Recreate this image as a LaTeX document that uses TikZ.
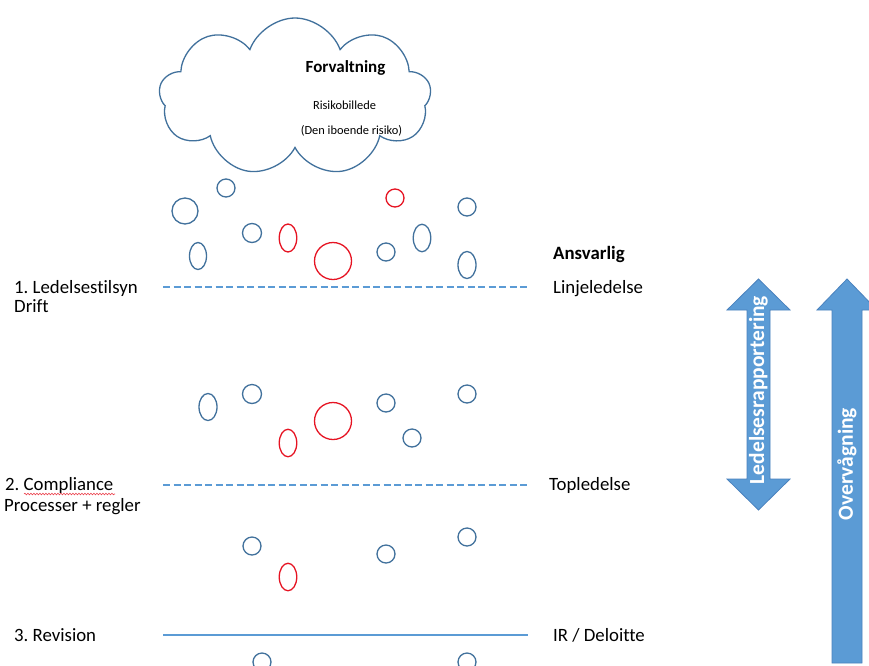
\documentclass[tikz,border=0pt]{standalone}
\usepackage{fontspec}
\setmainfont{Carlito}[Ligatures=NoCommon]
\usetikzlibrary{shapes.geometric,shapes.symbols,decorations.pathmorphing}
\definecolor{edgeblue}{RGB}{65,113,156}
\definecolor{lightblue}{RGB}{91,155,213}
\definecolor{arrowedge}{RGB}{74,130,190}
\definecolor{riskred}{RGB}{230,20,35}
\tikzset{
  blob/.style={ellipse, draw=edgeblue, line width=1.3pt, inner sep=0pt},
  redblob/.style={ellipse, draw=riskred, line width=1.3pt, inner sep=0pt},
  lab/.style={anchor=base west, inner sep=0pt, font=\fontsize{18.8}{22}\selectfont},
  dashline/.style={draw=lightblue, line width=1.8pt, dash pattern=on 7pt off 3.5pt},
  solidline/.style={draw=lightblue, line width=1.6pt},
  bigarrow/.style={fill=lightblue, draw=arrowedge, line width=0.8pt, line join=miter},
  arrowtext/.style={rotate=90, text=white, inner sep=0pt, font=\bfseries\fontsize{21.5}{24}\selectfont}
}
\begin{document}
\frenchspacing
\begin{tikzpicture}[x=1pt,y=-1pt]
\useasboundingbox (0,0) rectangle (869,665);
\clip (0,0) rectangle (869,665);
\fill[white] (0,0) rectangle (869,665);

% cloud
\node[cloud, draw=edgeblue, line width=1.3pt, cloud puffs=9, cloud puff arc=140, aspect=1.75,
      minimum width=272pt, minimum height=158pt, inner sep=0pt, shape border rotate=10] (cloud) at (295,97) {};
\node[inner sep=0pt, font=\bfseries\fontsize{17}{20}\selectfont] (forv) at (345.5,68) {Forvaltning};
\node[inner sep=0pt, font=\fontsize{12.4}{14}\selectfont] (risk) at (344.5,105) {Risikobillede};
\node[inner sep=0pt, font=\fontsize{12.4}{14}\selectfont] (ibo) at (351.5,131) {(Den iboende risiko)};

% top group of circles
\node[blob, minimum width=26pt, minimum height=26pt] (a1) at (185,211) {};
\node[blob, minimum width=18pt, minimum height=18pt] (a2) at (226,188) {};
\node[redblob, minimum width=18pt, minimum height=18pt] (a3) at (395,198) {};
\node[blob, minimum width=18pt, minimum height=18pt] (a4) at (467,207) {};
\node[blob, minimum width=19pt, minimum height=19pt] (a5) at (252,233) {};
\node[redblob, minimum width=17.5pt, minimum height=28pt] (a6) at (288,238) {};
\node[blob, minimum width=17pt, minimum height=27pt] (a7) at (198,256) {};
\node[redblob, minimum width=37pt, minimum height=37pt] (a8) at (333,261) {};
\node[blob, minimum width=18pt, minimum height=18pt] (a9) at (386,252) {};
\node[blob, minimum width=17.5pt, minimum height=27.5pt] (a10) at (422,238) {};
\node[blob, minimum width=18pt, minimum height=27pt] (a11) at (467,265) {};

% middle group
\node[blob, minimum width=18pt, minimum height=27pt] (b1) at (208,407) {};
\node[blob, minimum width=19pt, minimum height=19pt] (b2) at (252,394) {};
\node[redblob, minimum width=17.5pt, minimum height=27.5pt] (b3) at (288,443) {};
\node[redblob, minimum width=37pt, minimum height=37pt] (b4) at (333,421) {};
\node[blob, minimum width=18pt, minimum height=18pt] (b5) at (386,403) {};
\node[blob, minimum width=18pt, minimum height=18pt] (b6) at (412,438) {};
\node[blob, minimum width=18pt, minimum height=18pt] (b7) at (467,394) {};

% lower group
\node[blob, minimum width=18pt, minimum height=18pt] (c1) at (252,546) {};
\node[redblob, minimum width=17.5pt, minimum height=27.5pt] (c2) at (288,577) {};
\node[blob, minimum width=18pt, minimum height=18pt] (c3) at (386,554) {};
\node[blob, minimum width=18pt, minimum height=18pt] (c4) at (467,537) {};
\node[blob, minimum width=18pt, minimum height=18pt] (c5) at (262,662) {};
\node[blob, minimum width=18pt, minimum height=18pt] (c6) at (467,662) {};

% lines
\coordinate (l1s) at (163,287); \coordinate (l1e) at (528,287);
\coordinate (l2s) at (163,485); \coordinate (l2e) at (528,485);
\coordinate (l3s) at (163,635); \coordinate (l3e) at (528,635);
\draw[dashline] (l1s) -- (l1e);
\draw[dashline] (l2s) -- (l2e);
\draw[solidline] (l3s) -- (l3e);

% left labels
\node[lab] (t1) at (14,293) {1. Ledelsestilsyn};
\node[lab] (t1b) at (14,312) {Drift};
\node[lab] (t2) at (5,490) {2. Compliance};
\node[lab] (t2b) at (4,511) {Processer + regler};
\node[lab] (t3) at (14,641) {3. Revision};
\coordinate (sq1) at (24,494); \coordinate (sq2) at (115,494);
\draw[riskred!80, line width=0.6pt, decorate, decoration={snake, amplitude=0.8pt, segment length=3pt}] (sq1) -- (sq2);

% right labels
\node[lab, font=\bfseries\fontsize{18.8}{22}\selectfont] (ans) at (553,259) {Ansvarlig};
\node[lab] (r1) at (553,293) {Linjeledelse};
\node[lab] (r2) at (549,490) {Topledelse};
\node[lab] (r3) at (553,641) {IR / Deloitte};

% arrows
\path[bigarrow] (758.5,279) -- (790,310) -- (770,310) -- (770,479) -- (790,479) -- (758.5,510)
  -- (727,479) -- (747,479) -- (747,310) -- (727,310) -- cycle;
\node[arrowtext] (led) at (758.5,390) {Ledelsesrapportering};
\path[bigarrow] (847,279) -- (877,310) -- (862,310) -- (862,663) -- (832,663) -- (832,310) -- (817,310) -- cycle;
\node[arrowtext] (ovv) at (847,464) {Overvågning};
\end{tikzpicture}
\end{document}
